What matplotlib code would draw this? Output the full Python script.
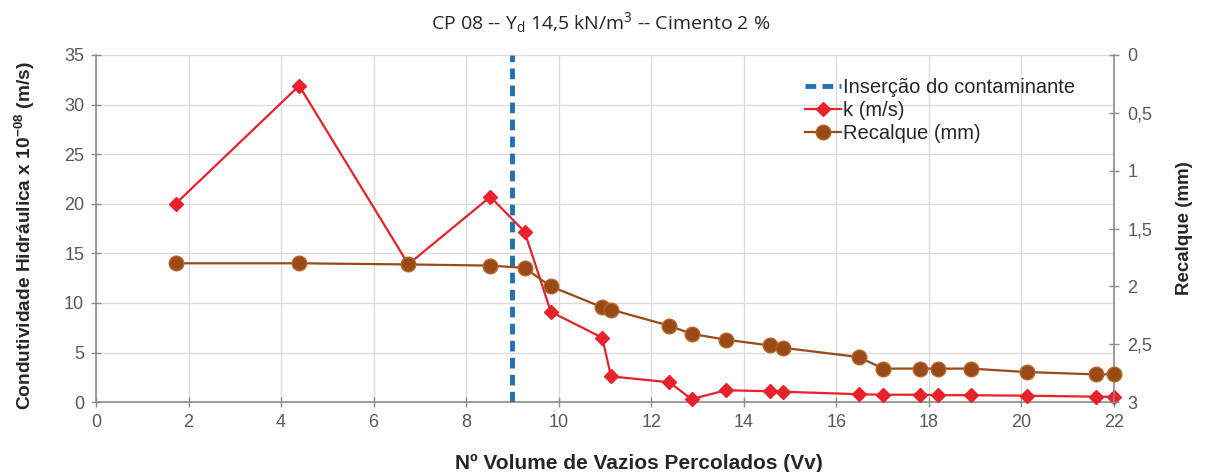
import matplotlib
matplotlib.use("Agg")
import matplotlib.pyplot as plt
from matplotlib.ticker import FuncFormatter

plt.rcParams['font.family'] = ['Liberation Sans', 'DejaVu Sans']
plt.rcParams['mathtext.default'] = 'regular'

# Volume de vazios percolados (Vv)
vv = [1.72, 4.39, 6.75, 8.52, 9.26, 9.83, 10.94, 11.13, 12.39, 12.87, 13.61,
      14.56, 14.84, 16.48, 17.01, 17.80, 18.19, 18.90, 20.12, 21.60, 22.0]
# condutividade hidraulica k (x 10^-8 m/s)
k_ms = [20.0, 31.9, 13.9, 20.7, 17.2, 9.1, 6.5, 2.6, 2.0, 0.3, 1.2,
        1.1, 1.05, 0.8, 0.75, 0.75, 0.7, 0.7, 0.65, 0.55, 0.55]
# recalque (mm)
recalque = [1.80, 1.80, 1.81, 1.82, 1.84, 2.00, 2.18, 2.20, 2.34, 2.41, 2.46,
            2.51, 2.53, 2.61, 2.71, 2.71, 2.71, 2.71, 2.74, 2.76, 2.76]
insercao_vv = 9

x_ticks = list(range(0, 23, 2))
k_ticks = list(range(0, 36, 5))
rec_ticks = [0, 0.5, 1, 1.5, 2, 2.5, 3]

cor_k = '#e8212b'
cor_rec = '#9a4a17'
cor_ins = '#1f72b8'
cinza = '#8c8c8c'
txt = '#595959'

fig = plt.figure(figsize=(12.08, 4.72), dpi=100)
ax1 = fig.add_axes([0.0795, 0.148, 0.8427, 0.7355])
ax2 = ax1.twinx()

ax1.set_xlim(0, 22)
ax1.set_ylim(0, 35)
ax2.set_ylim(3, 0)

ax1.set_xticks(x_ticks)
ax1.set_yticks(k_ticks)
ax2.set_yticks(rec_ticks)
ax2.yaxis.set_major_formatter(FuncFormatter(lambda v, p: f"{v:g}".replace('.', ',')))

ax1.grid(True, color='#dcdcdc', linewidth=1.0)
ax1.set_axisbelow(True)

ins = ax1.axvline(insercao_vv, color=cor_ins, linewidth=3.5, linestyle=(0, (2.2, 1.3)),
                  label='Inserção do contaminante', zorder=3)
lk, = ax1.plot(vv, k_ms, color=cor_k, linewidth=1.6, marker='D', markersize=7,
               label='k (m/s)', clip_on=False, zorder=4)
lr, = ax2.plot(vv, recalque, color=cor_rec, linewidth=1.6, marker='o', markersize=10.5,
               markerfacecolor='#9a4a17', markeredgecolor='#b5652a', markeredgewidth=1.0,
               label='Recalque (mm)', clip_on=False, zorder=4)

for ax in (ax1, ax2):
    for s in ax.spines.values():
        s.set_visible(False)
    ax.tick_params(colors=cinza, labelcolor=txt, labelsize=13, direction='inout',
                   length=7, width=1.0)
ax1.spines['left'].set_visible(True)
ax1.spines['bottom'].set_visible(True)
ax2.spines['right'].set_visible(True)
for s in (ax1.spines['left'], ax1.spines['bottom'], ax2.spines['right']):
    s.set_color(cinza)
    s.set_linewidth(1.2)
ax1.tick_params(axis='x', pad=5)
ax1.tick_params(axis='y', pad=5)
ax2.tick_params(axis='y', pad=6)

ax1.set_ylabel('Condutividade Hidráulica x 10$^{-08}$ (m/s)', fontsize=13.8,
               fontweight='bold', color='#262626')
ax1.yaxis.set_label_coords(-0.058, 0.48)
ax2.set_ylabel('Recalque (mm)', fontsize=13.5, fontweight='bold', color='#262626',
               labelpad=17)
ax1.set_xlabel('Nº Volume de Vazios Percolados (Vv)', fontsize=15, fontweight='bold',
               color='#262626')
ax1.xaxis.set_label_coords(0.533, -0.148)

fig.text(0.497, 0.952, 'CP 08 -- Y$_{d}$ 14,5 kN/m$^{3}$ -- Cimento 2 %',
         ha='center', va='center', fontsize=14, family=['Open Sans', 'DejaVu Sans'],
         color='#262626')

leg = ax2.legend(handles=[ins, lk, lr], loc='upper right', bbox_to_anchor=(0.976, 0.975),
                 frameon=False, fontsize=14.5, handlelength=1.8, handletextpad=0.1,
                 labelspacing=0.2, borderaxespad=0.3)
for t in leg.get_texts():
    t.set_color('#262626')

fig.savefig('out.png', dpi=100)
